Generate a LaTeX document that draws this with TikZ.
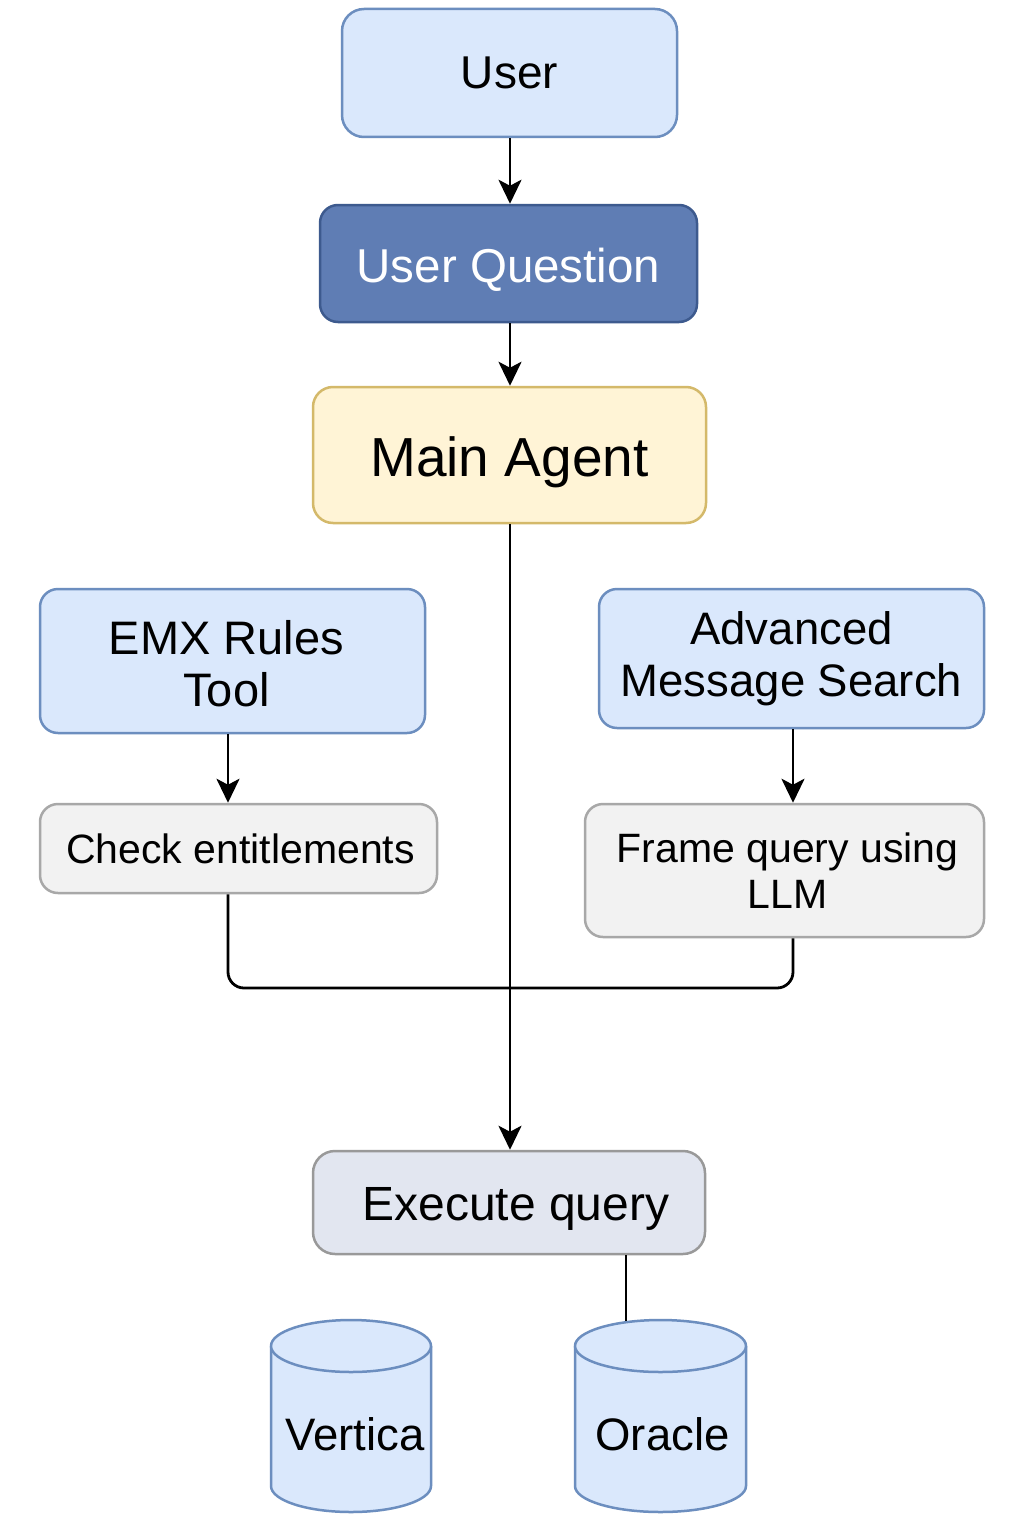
\documentclass[tikz,border=0pt]{standalone}
\usepackage{fontspec}
\setmainfont{Liberation Sans}
\usetikzlibrary{arrows.meta}
\definecolor{bluefill}{HTML}{DAE8FC}
\definecolor{bluedraw}{HTML}{6C8EBF}
\definecolor{darkfill}{HTML}{5F7DB4}
\definecolor{darkdraw}{HTML}{3D5A8E}
\definecolor{yelfill}{HTML}{FFF4D6}
\definecolor{yeldraw}{HTML}{D4B96A}
\definecolor{greyfill}{HTML}{F2F2F2}
\definecolor{greydraw}{HTML}{A8A8A8}
\definecolor{execfill}{HTML}{E2E6F0}
\definecolor{execdraw}{HTML}{999999}
\tikzset{
  box/.style={draw, rounded corners=22pt, line width=2.5pt, align=center, inner sep=0pt},
  bluebox/.style={box, fill=bluefill, draw=bluedraw},
  darkbox/.style={box, fill=darkfill, draw=darkdraw, text=white},
  yelbox/.style={box, fill=yelfill, draw=yeldraw},
  greybox/.style={box, fill=greyfill, draw=greydraw, rounded corners=18pt},
  execbox/.style={box, fill=execfill, draw=execdraw},
  conn/.style={line width=2.8pt, draw=black},
  arrowconn/.style={conn, -{Stealth[length=24pt, width=23pt, inset=6pt]}},
  dbshape/.style={fill=bluefill, draw=bluedraw, line width=2.5pt},
  dbtext/.style={inner sep=0pt, font=\fontsize{45.5}{50}\selectfont}
}
\begin{document}
\begin{tikzpicture}[x=1pt, y=-1pt]
\useasboundingbox[fill=white] (0,0) rectangle (1024,1536);

\node[bluebox, minimum width=335pt, minimum height=128pt, font=\fontsize{46}{52}\selectfont] (user) at (509.5,73) {User};
\node[darkbox, minimum width=377pt, minimum height=117pt, rounded corners=18pt, text height=47pt, font=\fontsize{47.5}{52}\selectfont] (uq) at (508.5,263.5) {User Question};
\node[yelbox, minimum width=393pt, minimum height=136pt, rounded corners=20pt, text height=54pt, font=\fontsize{55}{60}\selectfont] (main) at (509.5,455) {Main Agent};
\node[bluebox, minimum width=385pt, minimum height=144pt, rounded corners=18pt, font=\fontsize{47}{52}\selectfont] (emx) at (232.5,661) {\rule{0pt}{40pt}EMX Rules\hspace*{12pt}\\Tool\hspace*{12pt}};
\node[bluebox, minimum width=385pt, minimum height=139pt, rounded corners=18pt, font=\fontsize{45.5}{52}\selectfont] (ams) at (791.5,658.5) {Advanced\\Message Search};
\node[greybox, minimum width=397pt, minimum height=89pt, font=\fontsize{41}{46}\selectfont] (check) at (238.5,848.5) {\hspace*{4pt}Check entitlements};
\node[greybox, minimum width=399pt, minimum height=133pt, font=\fontsize{41}{46}\selectfont] (frame) at (784.5,870.5) {\hspace*{6pt}Frame query using\\\hspace*{6pt}LLM};
\node[execbox, minimum width=392pt, minimum height=103pt, text height=45pt, font=\fontsize{48}{54}\selectfont] (exec) at (509,1202.5) {\hspace*{14pt}Execute query};

% cylinders
\draw[dbshape] (271,1346) -- (271,1486) arc[start angle=180, end angle=360, x radius=80, y radius=-26] -- (431,1346) arc[start angle=0, end angle=180, x radius=80, y radius=-26] -- cycle;
\draw[dbshape] (271,1346) arc[start angle=180, end angle=360, x radius=80, y radius=-26];
\node[dbtext] (vertica) at (355,1434) {Vertica};

\draw[dbshape] (575,1346) -- (575,1486) arc[start angle=180, end angle=360, x radius=85.5, y radius=-26] -- (746,1346) arc[start angle=0, end angle=180, x radius=85.5, y radius=-26] -- cycle;
\draw[dbshape] (575,1346) arc[start angle=180, end angle=360, x radius=85.5, y radius=-26];
\node[dbtext] (oracle) at (662.5,1434) {Oracle};
\coordinate (oracletop) at (626,1321);

% connectors
\draw[arrowconn] ([xshift=0.5pt]user.south) -- ([xshift=0.5pt]user.south |- uq.north);
\draw[arrowconn] ([xshift=1.5pt]uq.south) -- ([xshift=1.5pt]uq.south |- main.north);
\draw[arrowconn] ([xshift=0.5pt]main.south) -- ([xshift=0.5pt]main.south |- exec.north);
\draw[arrowconn] ([xshift=-4.5pt]emx.south) -- ([xshift=-4.5pt]emx.south |- check.north);
\draw[arrowconn] ([xshift=1.5pt]ams.south) -- ([xshift=1.5pt]ams.south |- frame.north);
\coordinate (merge) at (510,988);
\draw[conn, rounded corners=16pt] ([xshift=-10.5pt]check.south) |- (merge);
\draw[conn, rounded corners=16pt] ([xshift=8.5pt]frame.south) |- (merge);
\draw[conn] ([xshift=117pt]exec.south) -- (oracletop);
\end{tikzpicture}
\end{document}
